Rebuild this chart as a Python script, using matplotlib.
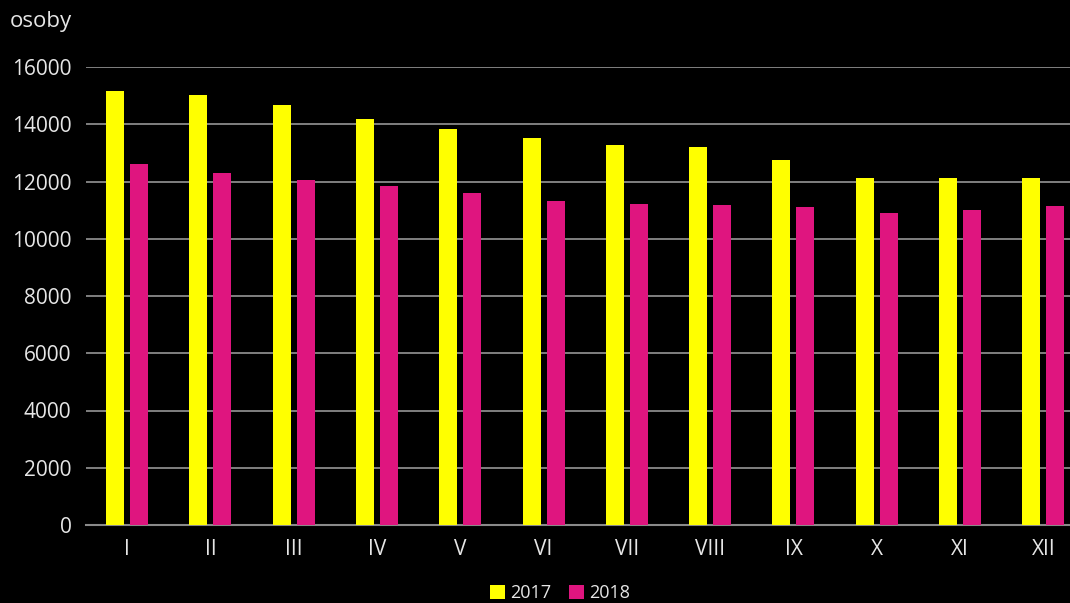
import matplotlib
matplotlib.use("Agg")
import matplotlib.pyplot as plt
import numpy as np
from matplotlib.patches import Patch

months = ["I", "II", "III", "IV", "V", "VI", "VII", "VIII", "IX", "X", "XI", "XII"]
y2017 = [15160, 15020, 14670, 14180, 13830, 13520, 13280, 13210, 12750, 12120, 12120, 12130]
y2018 = [12610, 12300, 12050, 11840, 11600, 11320, 11210, 11180, 11110, 10900, 11000, 11140]
yticks = [0, 2000, 4000, 6000, 8000, 10000, 12000, 14000, 16000]

plt.rcParams['font.family'] = ['Open Sans', 'DejaVu Sans']
W, H = 1070, 603
fig = plt.figure(figsize=(W / 100, H / 100), dpi=100, facecolor='black')
left, right, top, bottom = 85.5, 1085, 67, 525
ax = fig.add_axes([left / W, 1 - bottom / H, (right - left) / W, (bottom - top) / H])
ax.set_facecolor('black')

x = np.arange(len(months))
bw = 0.216
off = 0.144
ax.bar(x - off, y2017, width=bw, color='#FFFF00', zorder=3)
ax.bar(x + off, y2018, width=bw, color='#DF157F', zorder=3)

ax.set_xlim(-0.5, len(months) - 0.5)
ax.set_ylim(0, 16000)
ax.set_yticks(yticks)
ax.set_yticklabels([str(v) for v in yticks])
ax.set_xticks(x)
ax.set_xticklabels(months)
ax.grid(axis='y', color='#8a8a8a', linewidth=1.3, zorder=0)
ax.set_axisbelow(True)
for s in ['top', 'right', 'left']:
    ax.spines[s].set_visible(False)
ax.spines['bottom'].set_color('#8a8a8a')
ax.spines['bottom'].set_linewidth(1.5)
ax.tick_params(axis='both', length=0, colors='#e6e6e6', labelsize=15)
ax.tick_params(axis='y', pad=10)
ax.tick_params(axis='x', pad=10)

fig.text(10 / W, 1 - 21 / H, "osoby", color='#e6e6e6', fontsize=16, va='center', ha='left')

handles = [Patch(facecolor='#FFFF00', label='2017'), Patch(facecolor='#DF157F', label='2018')]
leg = fig.legend(handles=handles, loc='center', bbox_to_anchor=(560 / W, 1 - 593 / H), ncol=2,
                 frameon=False, fontsize=13, handlelength=0.8, handleheight=0.8,
                 handletextpad=0.3, columnspacing=1.0, labelcolor='#e6e6e6')

fig.savefig("out.png", dpi=100, facecolor='black')
